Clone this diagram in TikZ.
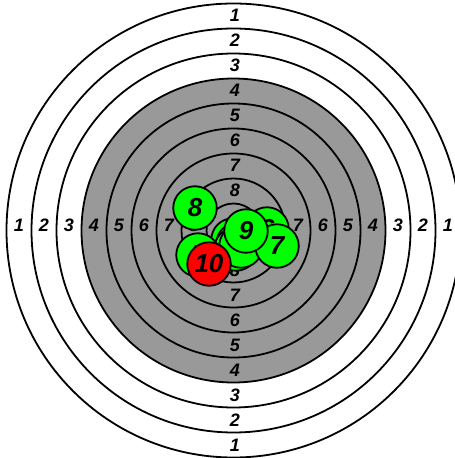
\documentclass[tikz,border=0pt]{standalone}
\usepackage{fontspec}
\setmainfont{Liberation Sans}
\usetikzlibrary{calc}
\definecolor{tgray}{RGB}{153,153,153}
\definecolor{shotgreen}{RGB}{0,255,0}
\definecolor{shotred}{RGB}{255,0,0}
\begin{document}
\begin{tikzpicture}[x=1pt,y=-1pt,
  ring/.style={draw=black,line width=1.8pt},
  ringlabel/.style={font=\fontsize{18}{18}\selectfont\bfseries\itshape,inner sep=0pt},
  shot/.style={circle,draw=black,line width=1.8pt,fill=shotgreen,minimum size=43.5pt,inner sep=0pt,
    font=\fontsize{26}{26}\selectfont\bfseries\itshape},
  redshot/.style={shot,fill=shotred}]
\useasboundingbox (0,0) rectangle (455,458);
\clip (0,0) rectangle (455,458);
\fill[white] (0,0) rectangle (455,458);
\coordinate (c) at (233.5,230.5);
\foreach \r in {227,202,177} \draw[ring,fill=white] (c) circle[radius=\r pt];
\draw[ring,fill=tgray] (c) circle[radius=152pt];
\foreach \r in {127,102,77,52,27} \draw[ring] (c) circle[radius=\r pt];
\foreach \k in {1,...,8}{
  \pgfmathsetmacro{\m}{239.5-25*\k}
  \node[ringlabel] (top\k) at ($(c)+(1.5,-\m-0.8)$) {\k};
  \node[ringlabel] (bot\k) at ($(c)+(1.5,\m)$) {\k};
  \node[ringlabel] (lef\k) at ($(c)+(-\m,-5)$) {\k};
  \node[ringlabel] (rig\k) at ($(c)+(\m,-5)$) {\k};
}
\node[shot] (s1) at (233,240) {};
\node[shot] (s2) at (238,244) {};
\node[shot] (s3) at (236,249) {};
\node[shot] (s4) at (241,246) {};
\node[shot] (s5) at (198,255) {5};
\node[shot] (s6) at (267,229) {6};
\node[shot] (s7) at (277,246) {7};
\node[shot] (s8) at (195,208) {8};
\node[shot] (s9) at (246,231) {9};
\node[redshot] (s10) at (209,264) {10};
\end{tikzpicture}
\end{document}
